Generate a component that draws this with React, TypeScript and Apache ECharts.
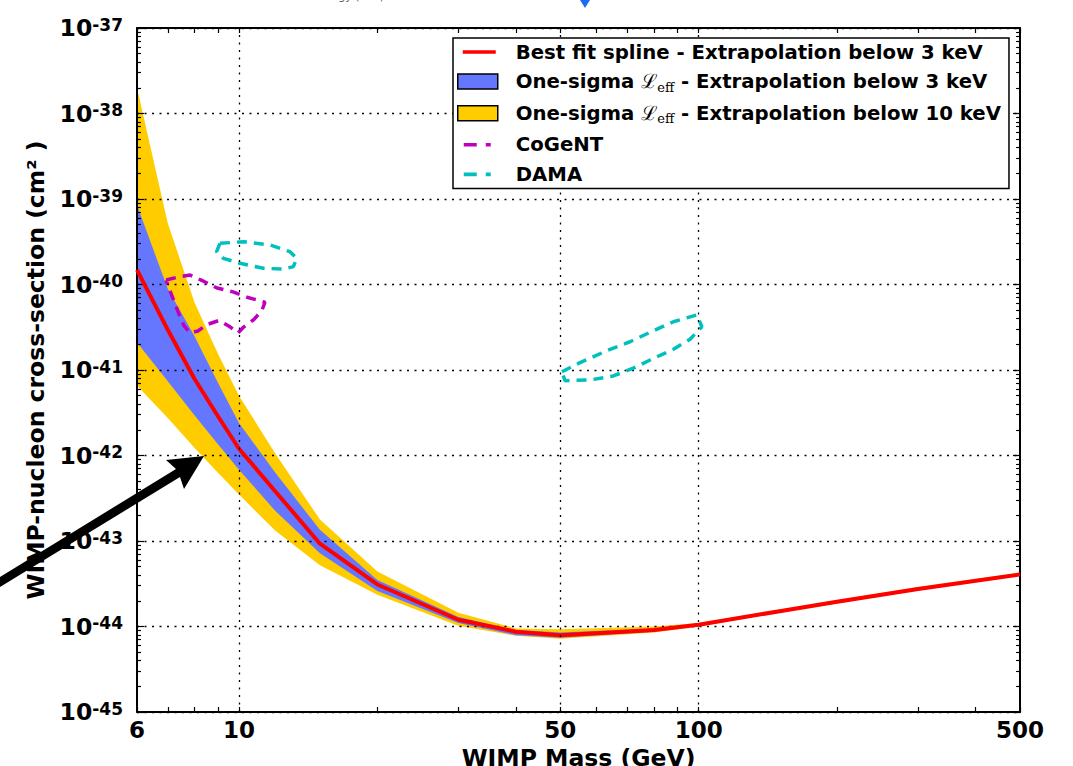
import React, { useEffect, useRef } from 'react';
import * as echarts from 'echarts';

// ---------- data (WIMP mass in GeV, cross-section in cm^2) ----------
const MASS = [6, 7, 8, 9, 10, 12, 15, 20, 30, 40, 50, 80, 100, 150, 200, 300, 500];
const BEST_FIT = [1.48e-40, 2.95e-41, 7.9e-42, 2.88e-42, 1.2e-42, 3.8e-43, 9.3e-44, 3.1e-44, 1.2e-44, 8.7e-45, 7.9e-45, 9.1e-45, 1.05e-44, 1.51e-44, 1.95e-44, 2.75e-44, 4.07e-44];
const SIGMA3_UP = [8.5e-40, 8.9e-41, 2.5e-41, 7.1e-42, 2.4e-42, 6.3e-43, 1.35e-43, 3.5e-44, 1.29e-44, 9.1e-45, 8.5e-45, 9.5e-45, 1.07e-44, 1.55e-44, 2.0e-44, 2.8e-44, 4.17e-44];
const SIGMA3_LO = [2.1e-41, 7.4e-42, 2.95e-42, 1.35e-42, 6.8e-43, 2.24e-43, 7.2e-44, 2.6e-44, 1.1e-44, 7.9e-45, 7.4e-45, 8.7e-45, 1.02e-44, 1.48e-44, 1.9e-44, 2.7e-44, 3.98e-44];
const SIGMA10_UP = [2.0e-38, 5.2e-40, 6.2e-41, 1.55e-41, 5.0e-42, 1.05e-42, 1.78e-43, 4.4e-44, 1.45e-44, 9.5e-45, 9.3e-45, 1.0e-44, 1.1e-44, 1.58e-44, 2.04e-44, 2.9e-44, 4.27e-44];
const SIGMA10_LO = [6.6e-42, 2.75e-42, 1.23e-42, 6.3e-43, 3.5e-43, 1.32e-43, 5.2e-44, 2.35e-44, 1.02e-44, 7.8e-45, 7.2e-45, 8.5e-45, 1.0e-44, 1.45e-44, 1.86e-44, 2.63e-44, 3.9e-44];

const COGENT_MASS = [6.94, 7.37, 7.83, 8.35, 8.96, 9.7, 10.41, 11.39, 11.22, 10.78, 10.25, 9.95, 9.56, 9.05, 8.52, 8.14, 7.83, 7.59, 7.44, 7.22, 7.04, 6.94];
const COGENT_XS = [1.13e-40, 1.22e-40, 1.29e-40, 1.1e-40, 9.1e-41, 8.2e-41, 7.1e-41, 6.2e-41, 5.0e-41, 3.9e-41, 3.2e-41, 2.71e-41, 3.2e-41, 3.8e-41, 3.4e-41, 2.86e-41, 2.71e-41, 3.3e-41, 4.2e-41, 6.4e-41, 9.1e-41, 1.13e-40];

const DAMA_LOW_MASS = [9.09, 10.22, 11.68, 12.91, 13.36, 13.13, 12.49, 11.3, 10.05, 9.25, 8.94, 9.09];
const DAMA_LOW_XS = [3.03e-40, 3.17e-40, 2.9e-40, 2.42e-40, 2.02e-40, 1.62e-40, 1.51e-40, 1.55e-40, 1.77e-40, 2.02e-40, 2.42e-40, 3.03e-40];
const DAMA_HIGH_MASS = [50.4, 55.2, 63.1, 70.9, 78.4, 88.1, 99.1, 101.6, 95.8, 88.1, 78.4, 72.1, 65.2, 58.0, 51.2, 50.4];
const DAMA_HIGH_XS = [9.55e-42, 1.22e-41, 1.68e-41, 2.14e-41, 2.76e-41, 3.67e-41, 4.4e-41, 3.21e-41, 2.29e-41, 1.75e-41, 1.31e-41, 1.05e-41, 8.51e-42, 7.64e-42, 7.5e-42, 9.55e-42];

const X_LABELS = [6, 10, 50, 100, 500];
const X_TICKS = [6, 7, 8, 9, 10, 20, 30, 40, 50, 60, 70, 80, 90, 100, 200, 300, 400, 500];
const X_GRID = [10, 50, 100];
const Y_EXPONENTS = [-45, -44, -43, -42, -41, -40, -39, -38, -37];

const NAME_BEST = 'Best fit spline - Extrapolation below 3 keV';
const NAME_S3 = 'One-sigma ℒeff - Extrapolation below 3 keV';
const NAME_S10 = 'One-sigma ℒeff - Extrapolation below 10 keV';
const NAME_COGENT = 'CoGeNT';
const NAME_DAMA = 'DAMA';

// The y axis works in units of 1e-45 cm^2 (avoids float trouble with tiny numbers);
// labels are written back as powers of ten in cm^2.
const Y_UNIT_EXP = Y_EXPONENTS[0];
const toUnit = (v: number) => v / Math.pow(10, Y_UNIT_EXP);
const Y_DECADES = Y_EXPONENTS.map((e) => Math.pow(10, e - Y_UNIT_EXP));
const Y_MINOR: number[] = [];
for (let i = 0; i < Y_DECADES.length - 1; i++) {
  for (let k = 2; k <= 9; k++) Y_MINOR.push(k * Y_DECADES[i]);
}

// ---------- styles ----------
const FONT = "'DejaVu Sans', 'Liberation Sans', sans-serif";
const RED = '#ff0000';
const BLUE = '#6677ff';
const YELLOW = '#ffcc00';
const MAGENTA = '#bf00bf';
const CYAN = '#00bfbf';

const zip = (xs: number[], ys: number[]) => xs.map((x, i) => [x, toUnit(ys[i])]);

function bandSeries(name: string, up: number[], lo: number[], color: string) {
  const pts = [...zip(MASS, up), ...zip(MASS, lo).reverse()];
  return {
    type: 'custom',
    name,
    coordinateSystem: 'cartesian2d',
    xAxisIndex: 0,
    yAxisIndex: 0,
    z: 1,
    clip: true,
    silent: true,
    itemStyle: { color },
    data: pts,
    encode: { x: 0, y: 1 },
    renderItem: (params: any, api: any) => {
      if (params.dataIndex !== 0) return null;
      const poly = pts.map((p) => api.coord(p));
      return { type: 'polygon', shape: { points: poly }, style: { fill: color, stroke: null } };
    },
  };
}

const lineBase = { type: 'line', symbol: 'none', showSymbol: false, z: 3, clip: true, silent: true, xAxisIndex: 0, yAxisIndex: 0 };

const axisLineStyle = { color: '#000', width: 2 };
const tickLineStyle = { color: '#000', width: 1.2 };
const gridLineStyle = { color: '#000', width: 1.3, type: [2, 5.5] };

const ARROW = [[0, 577], [176, 469], [166, 460], [204, 456], [184, 489], [180, 477], [0, 587]];

const ICON_SOLID = 'path://M0,0M40,15M5,5.7h33v3.6h-33z';
const ICON_DASH = 'path://M0,0M40,15M6,5.7h13v3.6h-13zM28,5.7h5v3.6h-5z';

export default function App() {
  const ref = useRef<HTMLDivElement>(null);
  useEffect(() => {
    if (!ref.current) return;
    const chart = echarts.init(ref.current, null, { renderer: 'svg' });

    const xCommon: any = {
      type: 'log',
      logBase: 10,
      min: 6,
      max: 500,
      gridIndex: 0,
      z: 2,
      axisLine: { show: true, onZero: false, lineStyle: axisLineStyle },
      axisTick: { show: true, inside: true, length: 5, customValues: X_TICKS, lineStyle: tickLineStyle },
      splitLine: { show: false },
      minorTick: { show: false },
    };
    const yCommon: any = {
      type: 'log',
      logBase: 10,
      min: Y_DECADES[0],
      max: Y_DECADES[Y_DECADES.length - 1],
      gridIndex: 0,
      z: 2,
      axisLine: { show: true, onZero: false, lineStyle: axisLineStyle },
      axisTick: { show: true, inside: true, length: 7, customValues: Y_DECADES, lineStyle: tickLineStyle },
      axisLabel: { show: false },
      splitLine: { show: false },
      minorTick: { show: false },
    };
    const yMinor: any = {
      ...yCommon,
      axisLine: { show: false },
      axisTick: { show: true, inside: true, length: 4, customValues: Y_MINOR, lineStyle: tickLineStyle },
    };

    const LF = 19.7;
    const legendRich = {
      sp: { width: 13 },
      n: { fontFamily: FONT, fontWeight: 'bold', fontSize: LF, color: '#000', lineHeight: 24, verticalAlign: 'middle' },
      L: { fontFamily: "'DejaVu Serif', serif", fontWeight: 'normal', fontSize: LF, color: '#000', lineHeight: 24, verticalAlign: 'middle' },
      sub: { fontFamily: "'DejaVu Serif', serif", fontWeight: 'normal', fontSize: 13, color: '#000', lineHeight: 13, verticalAlign: 'bottom' },
    };
    const hiddenLine = { opacity: 0, width: 0 };

    const option: any = {
      animation: false,
      backgroundColor: '#ffffff',
      grid: { left: 137, right: 53, top: 28, bottom: 54, containLabel: false, outerBoundsMode: 'none' },
      legend: {
        orient: 'vertical',
        left: 453,
        top: 38,
        z: 10,
        backgroundColor: '#ffffff',
        borderColor: '#000',
        borderWidth: 1.5,
        borderRadius: 0,
        padding: [4, 8, 4, 4],
        itemGap: 9.6,
        itemWidth: 40,
        itemHeight: 15,
        selectedMode: false,
        textStyle: { fontFamily: FONT, fontWeight: 'bold', fontSize: LF, color: '#000', rich: legendRich },
        formatter: (name: string) => {
          if (name.indexOf('ℒeff') >= 0) {
            const parts = name.split('ℒeff');
            return `{sp|}{n|${parts[0]}}{L|ℒ}{sub|eff}{n|${parts[1]}}`;
          }
          return `{sp|}{n|${name}}`;
        },
        data: [
          { name: NAME_BEST, icon: ICON_SOLID, itemStyle: { color: RED, borderWidth: 0 }, lineStyle: hiddenLine },
          { name: NAME_S3, icon: 'rect', itemStyle: { color: BLUE, borderColor: '#000', borderWidth: 1.5 } },
          { name: NAME_S10, icon: 'rect', itemStyle: { color: YELLOW, borderColor: '#000', borderWidth: 1.5 } },
          { name: NAME_COGENT, icon: ICON_DASH, itemStyle: { color: MAGENTA, borderWidth: 0 }, lineStyle: hiddenLine },
          { name: NAME_DAMA, icon: ICON_DASH, itemStyle: { color: CYAN, borderWidth: 0 }, lineStyle: hiddenLine },
        ],
      },
      xAxis: [
        {
          ...xCommon,
          position: 'bottom',
          axisLabel: {
            show: true,
            customValues: X_LABELS,
            margin: 6,
            showMinLabel: true,
            showMaxLabel: true,
            hideOverlap: false,
            formatter: (v: number) => String(Math.round(v)),
            fontFamily: FONT,
            fontWeight: 'bold',
            fontSize: 23,
            color: '#000',
          },
          name: 'WIMP Mass (GeV)',
          nameLocation: 'middle',
          nameGap: 28,
          nameTextStyle: { fontFamily: FONT, fontWeight: 'bold', fontSize: 23.5, color: '#000' },
        },
        { ...xCommon, position: 'top', axisLabel: { show: false } },
      ],
      yAxis: [
        {
          ...yCommon,
          position: 'left',
          axisLabel: {
            show: true,
            customValues: Y_DECADES,
            margin: 14,
            showMinLabel: true,
            showMaxLabel: true,
            hideOverlap: false,
            fontFamily: FONT,
            fontWeight: 'bold',
            fontSize: 23,
            color: '#000',
            formatter: (v: number) => `{b|10}{e|${Math.round(Math.log10(v)) + Y_UNIT_EXP}}`,
            rich: {
              b: { fontFamily: FONT, fontWeight: 'bold', fontSize: 23.5, color: '#000', lineHeight: 24, padding: [8, 0, 0, 0], verticalAlign: 'bottom' },
              e: { fontFamily: FONT, fontWeight: 'bold', fontSize: 17, color: '#000', lineHeight: 17, verticalAlign: 'top' },
            },
          },
          splitLine: { show: true, lineStyle: gridLineStyle },
          name: 'WIMP-nucleon cross-section (cm² )',
          nameLocation: 'middle',
          nameGap: 89,
          nameRotate: 90,
          nameMoveOverlap: false,
          nameTextStyle: { fontFamily: FONT, fontWeight: 'bold', fontSize: 23.5, color: '#000' },
        },
        { ...yMinor, position: 'left' },
        { ...yCommon, position: 'right' },
        { ...yMinor, position: 'right' },
      ],
      series: [
        bandSeries(NAME_S10, SIGMA10_UP, SIGMA10_LO, YELLOW),
        bandSeries(NAME_S3, SIGMA3_UP, SIGMA3_LO, BLUE),
        {
          ...lineBase,
          z: 2,
          name: '__grid',
          data: [],
          lineStyle: { width: 0 },
          markLine: {
            silent: true,
            symbol: ['none', 'none'],
            label: { show: false },
            lineStyle: gridLineStyle,
            data: X_GRID.map((v) => ({ xAxis: v })),
          },
        },
        {
          ...lineBase,
          name: NAME_BEST,
          data: zip(MASS, BEST_FIT),
          itemStyle: { color: RED },
          lineStyle: { color: RED, width: 4 },
        },
        {
          ...lineBase,
          name: NAME_COGENT,
          data: zip(COGENT_MASS, COGENT_XS),
          itemStyle: { color: MAGENTA },
          lineStyle: { color: MAGENTA, width: 3.5, type: [10, 7] },
        },
        {
          ...lineBase,
          name: NAME_DAMA,
          data: zip(DAMA_LOW_MASS, DAMA_LOW_XS),
          itemStyle: { color: CYAN },
          lineStyle: { color: CYAN, width: 3.5, type: [10, 7] },
        },
        {
          ...lineBase,
          name: NAME_DAMA,
          data: zip(DAMA_HIGH_MASS, DAMA_HIGH_XS),
          itemStyle: { color: CYAN },
          lineStyle: { color: CYAN, width: 3.5, type: [10, 7] },
        },
      ],
      graphic: [
        { type: 'polygon', z: 20, silent: true, shape: { points: ARROW }, style: { fill: '#000' } },
        { type: 'text', z: 20, silent: true, x: 277, y: -9, style: { text: 'Recoil Energy (keV)', font: `11px ${FONT}`, fill: '#555' } },
        { type: 'polygon', z: 20, silent: true, shape: { points: [[580, 0], [590, 0], [585, 8]] }, style: { fill: '#1a6cf0' } },
      ],
    };

    chart.setOption(option);
    return () => chart.dispose();
  }, []);

  return <div ref={ref} style={{ position: 'absolute', left: 0, top: 0, width: 1073, height: 766 }} />;
}
